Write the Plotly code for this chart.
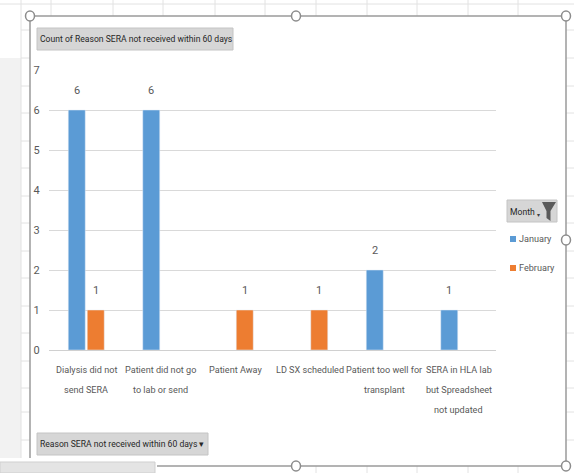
import plotly.graph_objects as go

# Pivot data: count of reasons per month
categories = [
    "Dialysis did not send SERA",
    "Patient did not go to lab or send",
    "Patient Away",
    "LD SX scheduled",
    "Patient too well for transplant",
    "SERA in HLA lab but Spreadsheet not updated",
]
category_lines = [
    ["Dialysis did not", "send SERA"],
    ["Patient did not go", "to lab or send"],
    ["Patient Away"],
    ["LD SX scheduled"],
    ["Patient too well for", "transplant"],
    ["SERA in HLA lab", "but Spreadsheet", "not updated"],
]
january = [6, 6, None, None, 2, 1]
february = [1, None, 1, 1, None, None]
y_ticks = [0, 1, 2, 3, 4, 5, 6, 7]

title_text = "Count of Reason SERA not received within 60 days"
axis_button_text = "Reason SERA not received within 60 days \u25be"
legend_title = "Month"

BLUE = "#5b9bd5"
ORANGE = "#ed7d31"
TEXT = "#595959"
FONT = "Roboto, Liberation Sans, sans-serif"
FS_NUM = 11      # digits: value labels and y ticks
FS_TXT = 9.1     # words: category labels and legend

W, H = 574, 473
ML, MR, MT, MB = 49, 78, 70, 123
PW, PH = W - ML - MR, H - MT - MB


def px(x):
    return (x - ML) / PW


def py(y):
    return 1 - (y - MT) / PH


fig = go.Figure()
fig.add_trace(go.Bar(x=categories, y=january, name="January",
                     marker_color=BLUE, showlegend=False))
fig.add_trace(go.Bar(x=categories, y=february, name="February",
                     marker_color=ORANGE, showlegend=False))

annotations = []
# value labels above each bar
for series, shift in ((january, -9.5), (february, 9.5)):
    for cat, v in zip(categories, series):
        if v is None:
            continue
        annotations.append(dict(x=cat, y=v, xref="x", yref="y", text=str(v),
                                showarrow=False, xshift=shift, yshift=20,
                                yanchor="middle",
                                font=dict(family=FONT, size=FS_NUM, color=TEXT)))

# category labels, one line each with spreadsheet-style line spacing
for cat, lines in zip(categories, category_lines):
    for i, txt in enumerate(lines):
        annotations.append(dict(x=cat, y=0, xref="x", yref="y", text=txt,
                                showarrow=False, yshift=-(20 + 20 * i),
                                yanchor="middle", xanchor="center",
                                font=dict(family=FONT, size=FS_TXT, color=TEXT)))

shapes = []


def line(x0, y0, x1, y1, color="#e2e2e2", width=1, layer="below"):
    shapes.append(dict(type="line", xref="paper", yref="paper",
                       x0=px(x0), y0=py(y0), x1=px(x1), y1=py(y1),
                       line=dict(color=color, width=width), layer=layer))


def rect(x0, y0, x1, y1, fill, border=None, layer="below"):
    shapes.append(dict(type="rect", xref="paper", yref="paper",
                       x0=px(x0), y0=py(y0), x1=px(x1), y1=py(y1),
                       fillcolor=fill,
                       line=dict(color=border or fill, width=1 if border else 0),
                       layer=layer))


# worksheet grid around the chart object
rect(0, 58, 21, 458, "#f2f2f2")
line(0, 4, W, 4)
for gx in [51, 113, 163, 215, 265, 316, 367, 417, 468, 518]:
    line(gx, 0, gx, 16)
for gy in [30, 58, 86, 113, 141, 168, 196, 223, 251, 278, 306, 333, 361, 388, 412, 440]:
    line(21, gy, 30, gy)
    line(566, gy, W, gy)
line(21, 0, 21, 458)
rect(0, 462, 155, H, "#e4e4e4", border="#cfcfcf")
for gx in [316, 367, 417, 468, 518]:
    line(gx, 466, gx, H)

# chart object frame with sizing handles
FRAME = "#9a9a9a"
line(30, 16, 566, 16, FRAME, 1.5, "above")
line(566, 16, 566, 466, FRAME, 1.5, "above")
line(30, 16, 30, 458, FRAME, 1.5, "above")
line(157, 466, 566, 466, FRAME, 1.5, "above")
for hx, hy in [(30, 16), (296, 16), (566, 16), (566, 240), (296, 466), (566, 466)]:
    shapes.append(dict(type="circle", xref="paper", yref="paper",
                       x0=px(hx - 4.5), x1=px(hx + 4.5),
                       y0=py(hy + 5), y1=py(hy - 5),
                       fillcolor="white", line=dict(color="#8c8c8c", width=1.5),
                       layer="above"))

# field buttons
rect(37, 28, 233, 50, "#d6d6d6", border="#c4c4c4")
rect(37, 433, 208, 455, "#d6d6d6", border="#c4c4c4")
rect(507, 200, 557, 222, "#d6d6d6", border="#c4c4c4")
# filter funnel icon on the Month button
shapes.append(dict(type="path", xref="paper", yref="paper",
                   path="M {} {} L {} {} L {} {} L {} {} L {} {} L {} {} Z".format(
                       px(542), py(202), px(556), py(202), px(550.5), py(211),
                       px(550.5), py(221), px(546.5), py(218), px(546.5), py(211)),
                   fillcolor="#5a5a5a", line=dict(width=0), layer="above"))

BTN = dict(family=FONT, size=8.6, color="#262626")
annotations += [
    dict(x=px(38), y=py(39), xref="paper", yref="paper", text=title_text,
         showarrow=False, xanchor="left", yanchor="middle", font=BTN),
    dict(x=px(38), y=py(444), xref="paper", yref="paper", text=axis_button_text,
         showarrow=False, xanchor="left", yanchor="middle", font=BTN),
    dict(x=px(508), y=py(212), xref="paper", yref="paper", text=legend_title,
         showarrow=False, xanchor="left", yanchor="middle", font=BTN),
    dict(x=px(538.5), y=py(214), xref="paper", yref="paper", text="\u25be",
         showarrow=False, xanchor="center", yanchor="middle",
         font=dict(family=FONT, size=6, color="#404040")),
]

# legend entries
for name, color, ly in (("January", BLUE, 239), ("February", ORANGE, 268)):
    rect(510, ly - 3, 516, ly + 3, color, layer="above")
    annotations.append(dict(x=px(517), y=py(ly), xref="paper", yref="paper",
                            text=name, showarrow=False, xanchor="left",
                            yanchor="middle",
                            font=dict(family=FONT, size=FS_TXT, color=TEXT)))

fig.update_layout(
    width=W, height=H,
    margin=dict(l=ML, r=MR, t=MT, b=MB, pad=0),
    paper_bgcolor="white", plot_bgcolor="rgba(0,0,0,0)",
    barmode="group", bargap=0.49, bargroupgap=0.105,
    font=dict(family=FONT, size=FS_TXT, color=TEXT),
    shapes=shapes, annotations=annotations,
    showlegend=False,
)
fig.update_xaxes(type="category", showgrid=False, showline=False, zeroline=False,
                 showticklabels=False, ticks="")
fig.update_yaxes(range=[0, 7], tickvals=y_ticks, showgrid=True, gridcolor="#d9d9d9",
                 gridwidth=1, zeroline=True, zerolinecolor="#d0d0d0", zerolinewidth=1,
                 showline=False, ticks="outside", ticklen=6,
                 tickcolor="rgba(0,0,0,0)",
                 tickfont=dict(family=FONT, size=FS_NUM, color=TEXT))

fig.write_html("out.html")
